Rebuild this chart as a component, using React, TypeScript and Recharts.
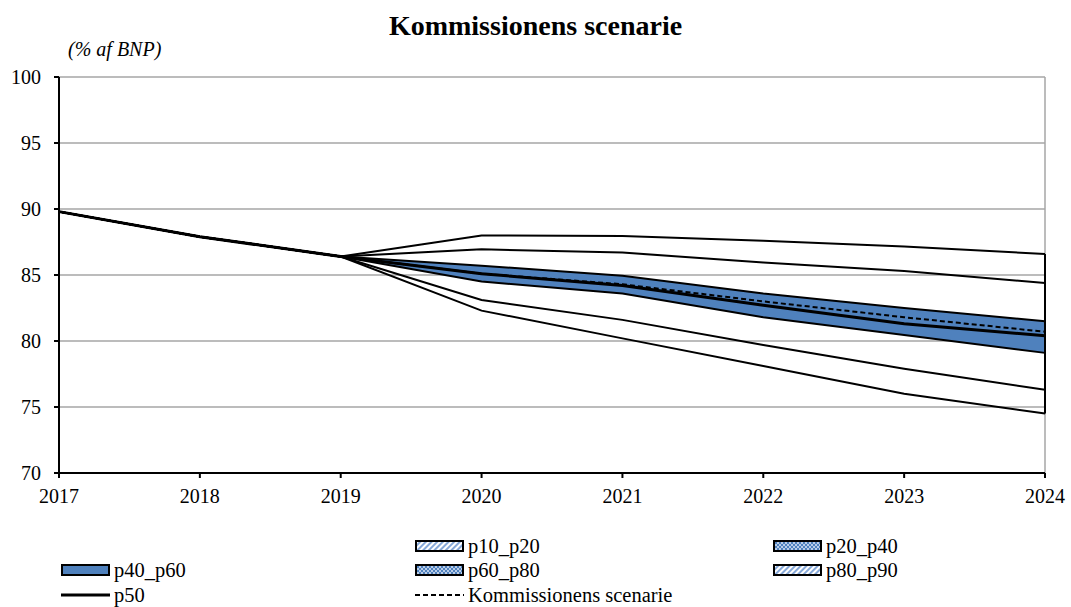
import React from "react"
import {
  ComposedChart,
  Line,
  Area,
  XAxis,
  YAxis,
  CartesianGrid,
  ReferenceLine,
} from "recharts"

// Fan chart: gross debt projection, percentiles of the stochastic scenario
const years = [2017, 2018, 2019, 2020, 2021, 2022, 2023, 2024]
const p10 = [89.8, 87.9, 86.4, 82.3, 80.2, 78.1, 76.0, 74.5]
const p20 = [89.8, 87.9, 86.4, 83.1, 81.6, 79.7, 77.9, 76.3]
const p40 = [89.8, 87.9, 86.4, 84.5, 83.6, 81.8, 80.45, 79.1]
const p50 = [89.8, 87.9, 86.4, 85.1, 84.2, 82.7, 81.3, 80.4]
const p60 = [89.8, 87.9, 86.4, 85.7, 84.95, 83.6, 82.5, 81.5]
const p80 = [89.8, 87.9, 86.4, 86.95, 86.7, 85.95, 85.3, 84.4]
const p90 = [89.8, 87.9, 86.4, 88.0, 87.95, 87.6, 87.15, 86.6]
const kommission = [89.8, 87.9, 86.4, 85.1, 84.3, 83.0, 81.8, 80.7]
const yTicks = [70, 75, 80, 85, 90, 95, 100]

const BLUE = "#4F81BD"
const GRID = "#A6A6A6"
const FONT = "'Liberation Serif', 'Times New Roman', serif"

const rows = years.map((year, i) => ({
  year,
  p10: p10[i],
  p20: p20[i],
  p40: p40[i],
  p50: p50[i],
  p60: p60[i],
  p80: p80[i],
  p90: p90[i],
  kom: kommission[i],
  mid: [p40[i], p60[i]],
}))

const last = years.length - 1

type SwatchKind = "hatch" | "cross" | "solid" | "line" | "dash"

function Swatch({ kind, id }: { kind: SwatchKind; id: string }) {
  if (kind === "line" || kind === "dash") {
    return (
      <svg width={49} height={12} style={{ display: "block" }}>
        <line
          x1={0}
          x2={49}
          y1={6}
          y2={6}
          stroke="#000"
          strokeWidth={kind === "line" ? 3 : 2}
          strokeDasharray={kind === "dash" ? "5 3" : undefined}
        />
      </svg>
    )
  }
  let fill = BLUE
  if (kind !== "solid") fill = `url(#${id})`
  return (
    <svg width={49} height={12} style={{ display: "block" }}>
      <defs>
        <pattern id={id} width={4} height={4} patternUnits="userSpaceOnUse" patternTransform={kind === "hatch" ? "rotate(45)" : undefined}>
          {kind === "hatch" ? (
            <>
              <rect width={4} height={4} fill="#fff" />
              <rect width={2} height={4} fill="#86A8D8" />
            </>
          ) : (
            <>
              <rect width={4} height={4} fill="#B9CDE8" />
              <rect width={2} height={2} fill={BLUE} />
              <rect x={2} y={2} width={2} height={2} fill={BLUE} />
            </>
          )}
        </pattern>
      </defs>
      <rect x={1} y={1} width={47} height={10} fill={fill} stroke="#000" strokeWidth={2} />
    </svg>
  )
}

const legendItems: { label: string; kind: SwatchKind; x: number; y: number }[] = [
  { label: "p10_p20", kind: "hatch", x: 415, y: 546 },
  { label: "p20_p40", kind: "cross", x: 773, y: 546 },
  { label: "p40_p60", kind: "solid", x: 61, y: 570 },
  { label: "p60_p80", kind: "cross", x: 415, y: 570 },
  { label: "p80_p90", kind: "hatch", x: 773, y: 570 },
  { label: "p50", kind: "line", x: 61, y: 595 },
  { label: "Kommissionens scenarie", kind: "dash", x: 415, y: 595 },
]

export default function App() {
  const tick = { fill: "#000", fontSize: 20, fontFamily: FONT }
  return (
    <div style={{ position: "absolute", left: 0, top: 0, width: 1071, height: 607, background: "#fff", fontFamily: FONT }}>
      <div style={{ position: "absolute", left: 0, width: 1071, top: 8, textAlign: "center", fontSize: 28, fontWeight: "bold", lineHeight: "36px" }}>
        Kommissionens scenarie
      </div>
      <div style={{ position: "absolute", left: 68, top: 36, fontSize: 20, fontStyle: "italic", lineHeight: "26px" }}>
        (% af BNP)
      </div>
      <ComposedChart width={1071} height={607} data={rows} margin={{ top: 77, right: 26, bottom: 0, left: 0 }}>
        <CartesianGrid vertical={false} stroke={GRID} strokeWidth={1.5} />
        <XAxis
          dataKey="year"
          type="number"
          domain={[2017, 2024]}
          ticks={years}
          height={134}
          tick={tick}
          tickSize={5}
          tickMargin={11}
          stroke="#000"
          strokeWidth={2}
          interval={0}
        />
        <YAxis
          domain={[70, 100]}
          ticks={yTicks}
          width={59}
          tick={tick}
          tickSize={5}
          tickMargin={13}
          stroke="#000"
          strokeWidth={2}
          interval={0}
        />
        <ReferenceLine x={2024} stroke={GRID} strokeWidth={1.5} />
        <Area dataKey="mid" fill={BLUE} fillOpacity={1} stroke="none" isAnimationActive={false} />
        <Line dataKey="p90" stroke="#000" strokeWidth={2} dot={false} isAnimationActive={false} />
        <Line dataKey="p80" stroke="#000" strokeWidth={2} dot={false} isAnimationActive={false} />
        <Line dataKey="p60" stroke="#000" strokeWidth={2} dot={false} isAnimationActive={false} />
        <Line dataKey="p40" stroke="#000" strokeWidth={2} dot={false} isAnimationActive={false} />
        <Line dataKey="p20" stroke="#000" strokeWidth={2} dot={false} isAnimationActive={false} />
        <Line dataKey="p10" stroke="#000" strokeWidth={2} dot={false} isAnimationActive={false} />
        <Line dataKey="kom" stroke="#000" strokeWidth={2} strokeDasharray="5 3" dot={false} isAnimationActive={false} />
        <Line dataKey="p50" stroke="#000" strokeWidth={3} dot={false} isAnimationActive={false} />
        <ReferenceLine
          segment={[
            { x: years[last], y: p10[last] },
            { x: years[last], y: p90[last] },
          ]}
          stroke="#000"
          strokeWidth={2}
        />
      </ComposedChart>
      {legendItems.map((item, i) => (
        <div
          key={item.label}
          style={{ position: "absolute", left: item.x, top: item.y - 12, height: 24, display: "flex", alignItems: "center", fontSize: 20.5 }}
        >
          <Swatch kind={item.kind} id={`sw-${i}`} />
          <span style={{ marginLeft: 4, lineHeight: "24px" }}>{item.label}</span>
        </div>
      ))}
    </div>
  )
}
